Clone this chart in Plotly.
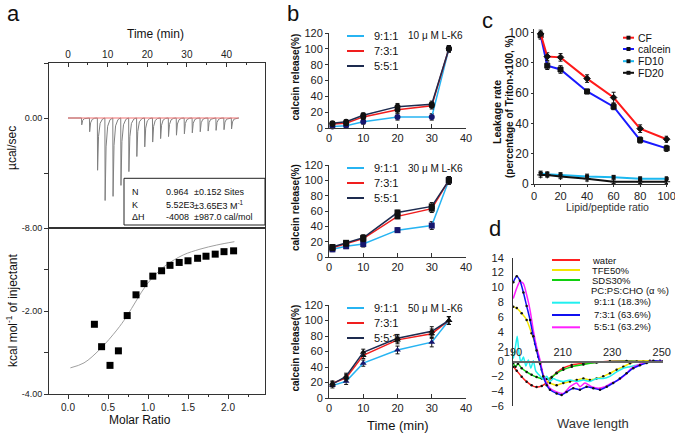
import plotly.graph_objects as go

W, H = 675, 433
FONT = "Arial, Liberation Sans, sans-serif"


def px(x):
    return x / W


def py(y):
    return 1 - y / H


# ── panel a (top): raw ITC heat flow ───────────────────────────
inj_time = [3.4, 5.4, 7.4, 9.3, 11.3, 13.3, 15.3, 17.3, 19.3, 21.3,
            23.3, 25.3, 27.3, 29.3, 31.3, 33.3, 35.3, 37.3, 39.3, 41.2]
inj_peak = [-0.5, -1.0, -3.8, -6.0, -5.7, -4.9, -3.9, -2.8, -2.1, -1.75,
            -1.5, -1.35, -1.25, -1.15, -1.08, -1.0, -0.95, -0.9, -0.85, -0.8]
baseline_time = [0, 43]
spike_dt = [0, 0.06, 0.3, 0.7, 1.3, 1.9]
spike_frac = [0, 1, 0.35, 0.1, 0.02, 0]

# ── panel a (bottom): integrated heats ─────────────────────────
molar_ratio = [0.33, 0.42, 0.525, 0.63, 0.74, 0.85, 0.95, 1.06, 1.17,
               1.275, 1.39, 1.50, 1.62, 1.725, 1.84, 1.95, 2.07]
heat = [-2.32, -2.86, -3.31, -2.96, -2.11, -1.61, -1.34, -1.16, -1.03,
        -0.90, -0.83, -0.79, -0.73, -0.68, -0.63, -0.57, -0.55]
fit_ratio = [0.03, 0.2, 0.4, 0.61, 0.73, 0.86, 0.98, 1.11, 1.23, 1.44, 1.65, 1.86, 2.08]
fit_heat = [-3.37, -3.25, -2.92, -2.46, -2.14, -1.73, -1.37, -1.09, -0.89, -0.65, -0.51, -0.41, -0.33]

# ── panel b: calcein release vs time ───────────────────────────
b_time = [1, 5, 10, 20, 30, 35]
b_names = ["9:1:1", "7:3:1", "5:5:1"]
b_conc = ["10 μ M L-K6", "30 μ M L-K6", "50 μ M L-K6"]
b10_911 = [2, 3, 8, 14, 14, 100]
b10_731 = [5, 6, 14, 23, 28, 100]
b10_551 = [6, 8, 16, 27, 30, 100]
b10_err = [2, 2, 3, 4, 4, 4]
b30_911 = [10, 14, 17, 35, 41, 100]
b30_731 = [12, 17.5, 24, 53, 63, 100]
b30_551 = [13, 18.5, 25, 58, 66, 100]
b30_err = [3, 3, 4, 3, 5, 5]
b50_911 = [16, 21.5, 45, 62, 72, 100]
b50_731 = [19, 26, 55, 75, 83, 100]
b50_551 = [18, 28, 59, 77, 86, 100]
b50_err = [3, 4, 4, 5, 6, 5]

# ── panel c: leakage vs lipid/peptide ratio ────────────────────
lp_ratio = [5, 10, 20, 40, 60, 80, 100]
leak_cf = [99, 84, 83.5, 69.5, 57, 36.5, 29.5]
leak_cf_err = [2.5, 2.5, 2.5, 2.5, 3.5, 2.5, 2]
leak_calcein = [98, 78, 75.5, 61, 51, 29, 23.5]
leak_calcein_err = [2.5, 2.5, 2.5, 1.5, 2, 2, 2]
leak_fd10 = [7, 6.5, 6, 5, 4.5, 3.5, 3.5]
leak_fd10_err = [1.5, 1.5, 1.5, 1.5, 1.2, 1.2, 1.2]
leak_fd20 = [6, 6, 5, 3.5, 1.5, 1.5, 1.5]
leak_fd20_err = [1.5, 1.5, 1.5, 1.5, 1.2, 1.2, 1.2]

# ── panel d: CD spectra ────────────────────────────────────────
water_wl = [190.1, 191.5, 193.5, 195.5, 197.5, 199.5, 201.6, 203.6, 205.6, 207.6,
            210.3, 213.7, 218.4, 223.7, 229.1, 235.8, 242.6, 249.3]
water = [-0.7, -1.24, -2.04, -2.72, -3.21, -3.44, -3.30, -2.85, -2.18, -1.50,
         -0.88, -0.47, -0.25, -0.11, 0.02, 0.07, 0.02, 0.07]
tfe_wl = [190.1, 191.5, 193.5, 195.5, 197.5, 198.9, 200.2, 201.6, 202.9, 204.9,
          207.6, 210.3, 213.0, 215.7, 218.4, 221.0, 223.7, 226.4, 229.1, 231.8,
          234.5, 237.2, 239.9, 245.2, 249.3]
tfe = [7.4, 7.2, 6.5, 5.6, 3.8, 2.4, 0.65, -1.1, -2.5, -2.9,
       -3.2, -2.9, -2.7, -2.5, -2.3, -2.5, -2.3, -2.0, -1.6, -1.1,
       -0.7, -0.25, 0.0, 0.1, 0.1]
sds_wl = [190.1, 191.0, 192.0, 193.5, 195.5, 197.5, 199.5, 201.6, 203.6, 205.6,
          207.6, 210.3, 213.7, 218.4, 223.7, 229.1, 235.8, 242.6, 249.3]
sds = [-0.2, -0.7, -0.3, -0.9, -1.4, -1.8, -2.1, -2.3, -2.35, -2.1,
       -1.6, -1.1, -0.7, -0.4, -0.15, 0.0, 0.05, 0.0, 0.05]
l911_wl = [190.1, 190.9, 191.7, 192.4, 193.2, 194.2, 195.2, 196.2, 197.2, 198.2,
           199.2, 200.5, 202.2, 203.6, 204.9, 206.3, 207.6, 210.3, 213.0, 215.7,
           218.4, 221.0, 223.7, 226.4, 229.1, 231.8, 234.5, 237.2, 239.9, 242.6,
           245.2, 249.3]
l911 = [0.4, 1.8, 3.4, 1.2, -0.1, 0.6, -0.6, 0.2, -0.9, 0.1,
        -1.3, -1.8, -2.4, -2.0, -2.7, -2.3, -2.5, -2.7, -2.5, -2.7,
        -2.5, -2.7, -2.3, -2.3, -2.0, -1.4, -0.9, -0.7, -0.5, -0.25,
        -0.1, 0.0]
l731_wl = [190.1, 191.5, 192.8, 194.2, 195.5, 196.9, 198.2, 199.5, 200.9, 202.2,
           203.6, 204.9, 207.6, 209.6, 211.6, 214.3, 217.0, 219.7, 222.4, 225.1,
           227.8, 230.4, 233.1, 235.8, 238.5, 241.2, 243.9, 246.6, 250.4]
l731 = [10.7, 11.5, 10.9, 9.3, 7.5, 5.6, 3.4, 1.5, -0.3, -2.0,
        -3.2, -3.8, -4.3, -4.5, -4.1, -3.6, -3.8, -3.4, -3.6, -3.8,
        -3.4, -2.9, -2.3, -1.6, -0.9, -0.5, -0.2, 0.1, 0.0]
l551_wl = [190.1, 191.5, 192.8, 194.2, 195.5, 196.9, 198.2, 199.5, 200.9, 202.2,
           203.6, 204.9, 207.6, 210.3, 213.0, 215.7, 217.0, 219.0, 221.7, 224.4,
           227.1, 229.8, 232.5, 235.2, 237.9, 241.2, 245.2, 250.4]
l551 = [8.5, 9.9, 10.8, 10.5, 9.0, 6.9, 4.2, 2.0, 0.2, -1.8,
        -2.9, -3.6, -4.1, -4.3, -3.4, -2.9, -3.4, -2.9, -3.4, -3.6,
        -3.4, -2.9, -2.5, -1.8, -0.9, -0.35, 0.0, 0.0]

fig = go.Figure()
ann, shp = [], []


def label(x, y, text, size=10, xanchor="center", angle=0, color="#111"):
    ann.append(dict(x=px(x), y=py(y), xref="paper", yref="paper", text=text,
                    showarrow=False, xanchor=xanchor, yanchor="middle",
                    textangle=angle, font=dict(family=FONT, size=size, color=color)))


def hline(x0, x1, y, color, width=2):
    shp.append(dict(type="line", xref="paper", yref="paper", x0=px(x0), x1=px(x1),
                    y0=py(y), y1=py(y), line=dict(color=color, width=width)))


# ── a: raw trace ───────────────────────────────────────────────
raw_t, raw_v = [0], [0]
for t, d in zip(inj_time, inj_peak):
    for dt, f in zip(spike_dt, spike_frac):
        raw_t.append(t + dt)
        raw_v.append(d * f)
raw_t.append(baseline_time[1])
raw_v.append(0)
fig.add_trace(go.Scatter(x=raw_t, y=raw_v, mode="lines", line=dict(color="#808080", width=1),
                         xaxis="x", yaxis="y"))
fig.add_trace(go.Scatter(x=baseline_time, y=[0, 0], mode="lines",
                         line=dict(color="#f07070", width=1), xaxis="x", yaxis="y"))

# ── a: isotherm ────────────────────────────────────────────────
fig.add_trace(go.Scatter(x=fit_ratio, y=fit_heat, mode="lines",
                         line=dict(color="#a0a0a0", width=1, shape="spline"),
                         xaxis="x2", yaxis="y2"))
fig.add_trace(go.Scatter(x=molar_ratio, y=heat, mode="markers",
                         marker=dict(symbol="square", size=7, color="black"),
                         xaxis="x2", yaxis="y2"))

# ── b ─────────────────────────────────────────────────────────
b_colors = ["#27b4f2", "#f01e1e", "#1d2b4f"]
b_marker = ["#16166e", "#111", "#111"]
b_symbols = ["circle", "square", "triangle-up"]
b_sets = [(b10_911, b10_731, b10_551, b10_err),
          (b30_911, b30_731, b30_551, b30_err),
          (b50_911, b50_731, b50_551, b50_err)]
for k, sets in enumerate(b_sets):
    err = sets[3]
    for j in range(3):
        fig.add_trace(go.Scatter(
            x=b_time, y=sets[j], mode="lines+markers",
            line=dict(color=b_colors[j], width=1.5),
            marker=dict(symbol=b_symbols[k], size=6, color=b_marker[j]),
            error_y=dict(type="data", array=err, color="#111", thickness=1, width=2),
            xaxis=f"x{3 + k}", yaxis=f"y{3 + k}", cliponaxis=False))

# ── c ─────────────────────────────────────────────────────────
c_series = [(leak_fd10, leak_fd10_err, "#1cb8f0", "square", 3),
            (leak_fd20, leak_fd20_err, "#111111", "cross-thin", 5),
            (leak_calcein, leak_calcein_err, "#1a1aff", "square", 5),
            (leak_cf, leak_cf_err, "#ff1a1a", "diamond", 5)]
for vals, err, col, sym, sz in c_series:
    fig.add_trace(go.Scatter(
        x=lp_ratio, y=vals, mode="lines+markers", line=dict(color=col, width=2),
        marker=dict(symbol=sym, size=sz, color="#111", line=dict(color="#111", width=1)),
        error_y=dict(type="data", array=err, color="#111", thickness=1, width=2),
        xaxis="x6", yaxis="y6", cliponaxis=False))

# ── d ─────────────────────────────────────────────────────────
d_series = [(water_wl, water, "#ff2020", True),
            (sds_wl, sds, "#10d010", True),
            (tfe_wl, tfe, "#f2e600", True),
            (l911_wl, l911, "#20f0f0", False),
            (l551_wl, l551, "#ff20ff", False),
            (l731_wl, l731, "#1010f0", True)]
for wl, v, col, dots in d_series:
    fig.add_trace(go.Scatter(
        x=wl, y=v, mode="lines+markers" if dots else "lines",
        line=dict(color=col, width=1.5, shape="spline", smoothing=0.6),
        marker=dict(size=2.5, color="#111"), xaxis="x7", yaxis="y7"))


def ax(**kw):
    base = dict(showgrid=False, zeroline=False, showline=True, linecolor="#333",
                linewidth=1, tickcolor="#333", ticklen=3,
                tickfont=dict(family=FONT, size=10, color="#222"))
    base.update(kw)
    return base


layout = dict(
    xaxis=ax(domain=[px(49), px(265)], anchor="y", side="top", range=[-4.8, 49.7],
             tickvals=[0, 10, 20, 30, 40, 50], ticks="inside", ticklen=4, mirror=True,
             minor=dict(dtick=5, ticks="inside", ticklen=2)),
    yaxis=ax(domain=[py(228), py(63)], anchor="x", range=[-8, 4],
             tickvals=[-8, 0], ticktext=["-8.00", "0.00"], ticks="outside",
             ticklen=4, mirror=True, tickfont=dict(family=FONT, size=9, color="#222"),
             minor=dict(dtick=4, ticks="outside", ticklen=4)),
    xaxis2=ax(domain=[px(49), px(265)], anchor="y2", range=[-0.2375, 2.4625],
              tickvals=[0, 0.5, 1, 1.5, 2, 2.5],
              ticktext=["0.0", "0.5", "1.0", "1.5", "2.0", "2.5"],
              ticks="outside", ticklen=4, mirror=True,
              minor=dict(dtick=0.25, ticks="outside", ticklen=2)),
    yaxis2=ax(domain=[py(394), py(228)], anchor="x2", range=[-4, 0],
              tickvals=[-4, -2], ticktext=["-4.00", "-2.00"],
              ticks="outside", ticklen=4, mirror=True,
              tickfont=dict(family=FONT, size=9, color="#222"),
              minor=dict(dtick=1, ticks="outside", ticklen=4)),
)

b_rows = [(33, 128), (165, 257), (305, 398)]
for k, (top, bot) in enumerate(b_rows):
    layout[f"xaxis{3 + k}"] = ax(domain=[px(329), px(466)], anchor=f"y{3 + k}",
                                 range=[0, 40], dtick=10, ticks="inside", ticklen=4,
                                 tickfont=dict(family=FONT, size=11, color="#222"))
    layout[f"yaxis{3 + k}"] = ax(domain=[py(bot), py(top)], anchor=f"x{3 + k}",
                                 range=[0, 120], dtick=20, ticks="outside", ticklen=3,
                                 tickfont=dict(family=FONT, size=11, color="#222"))

layout["xaxis6"] = ax(domain=[px(534), px(668)], anchor="y6", range=[0, 101],
                      tickvals=[0, 20, 40, 60, 80, 100], ticks="outside", ticklen=2,
                      ticklabeloverflow="allow",
                      tickfont=dict(family=FONT, size=11, color="#222"))
layout["yaxis6"] = ax(domain=[py(184), py(29.3)], anchor="x6", range=[0, 102],
                      tickvals=[0, 20, 40, 60, 80, 100], ticks="outside", ticklen=2,
                      tickfont=dict(family=FONT, size=12, color="#222"))

d_lo, d_hi = py(406), py(257.7)
d_range = [-6, 14]
layout["xaxis7"] = ax(domain=[px(513), px(663)], anchor="free",
                      position=d_lo + (0 - d_range[0]) / (d_range[1] - d_range[0]) * (d_hi - d_lo),
                      side="top", range=[190, 250.5], tickvals=[190, 210, 230, 250],
                      ticks="", linecolor="#666", linewidth=2,
                      tickfont=dict(family=FONT, size=11, color="#222"))
layout["yaxis7"] = ax(domain=[d_lo, d_hi], anchor="x7", range=d_range, dtick=2,
                      ticks="", ticklabelstandoff=6,
                      tickfont=dict(family=FONT, size=11, color="#222"))

# ── text: panel a ──────────────────────────────────────────────
label(13, 14, "a", 22)
label(155, 34, "Time (min)", 12)
label(12, 148, "µcal/sec", 12, angle=-90)
label(12, 310, "kcal mol<sup>-1</sup> of injectant", 12, angle=-90)
label(140, 420, "Molar Ratio", 12)
shp.append(dict(type="rect", xref="paper", yref="paper", x0=px(124), x1=px(265),
                y0=py(225), y1=py(178.3), line=dict(color="#222", width=1),
                fillcolor="white", layer="above"))
table_rows = [("N", "0.964", "±0.152 Sites"),
              ("K", "5.52E3", "±3.65E3 M<sup>-1</sup>"),
              ("ΔH", "-4008", "±987.0 cal/mol")]
for (a1, a2, a3), yy in zip(table_rows, [192, 205, 217]):
    label(130, yy, a1, 9, "left")
    label(164, yy, a2, 9, "left")
    label(192, yy, a3, 9, "left")

# ── text: panel b ──────────────────────────────────────────────
label(293, 13, "b", 22)
for k, (top, bot) in enumerate(b_rows):
    label(295, (top + bot) / 2 - 3, "<b>calcein release(%)</b>", 10, angle=-90)
    for j in range(3):
        yy = top + 3 + 15 * j
        hline(347, 364, yy, b_colors[j], 2)
        label(372, yy, b_names[j], 11, "left")
    label(406, top + 3, b_conc[k], 10, "left")
label(398, 425, "Time (min)", 13)

# ── text: panel c ──────────────────────────────────────────────
label(488, 20, "c", 22)
label(497, 112, "<b>Leakage rate</b>", 10.5, angle=-90)
label(510, 107, "<b>(percentage of Triton-x100, %)</b>", 10, angle=-90)
label(607, 207, "Lipid/peptide ratio", 10.5, color="#333")
c_leg = [("CF", "#ff1a1a"), ("calcein", "#1a1aff"), ("FD10", "#1cb8f0"), ("FD20", "#111111")]
for (name, col), yy in zip(c_leg, [37.7, 49, 61.2, 72.8]):
    hline(623, 634, yy, col, 2)
    shp.append(dict(type="rect", xref="paper", yref="paper", x0=px(626.5), x1=px(630.5),
                    y0=py(yy + 2), y1=py(yy - 2), line=dict(width=0), fillcolor="#111"))
    label(636, yy, name, 10.5, "left")

# ── text: panel d ──────────────────────────────────────────────
label(495, 228, "d", 22)
label(593, 423, "Wave length", 13, color="#333")
d_leg = [("water", "#ff2020", 260), ("TFE50%", "#f2e600", 270), ("SDS30%", "#10d010", 280),
         ("9:1:1 (18.3%)", "#20f0f0", 302.7), ("7:3:1 (63.6%)", "#1010f0", 315),
         ("5:5:1 (63.2%)", "#ff20ff", 327.3)]
for name, col, yy in d_leg:
    hline(552, 580, yy, col, 2)
    label(590 if ":" not in name else 592, yy - (1 if ":" in name else 0), name, 9.5, "left")
label(589, 290.5, "PC:PS:CHO (α %)", 9.5, "left")

fig.update_layout(
    **layout,
    width=W, height=H, margin=dict(l=0, r=0, t=0, b=0),
    template="none", showlegend=False,
    paper_bgcolor="white", plot_bgcolor="rgba(0,0,0,0)",
    font=dict(family=FONT, color="#222"),
    annotations=ann, shapes=shp,
)

fig.write_html("out.html", config={"displayModeBar": False},
               post_script="document.body.style.margin='0';")
